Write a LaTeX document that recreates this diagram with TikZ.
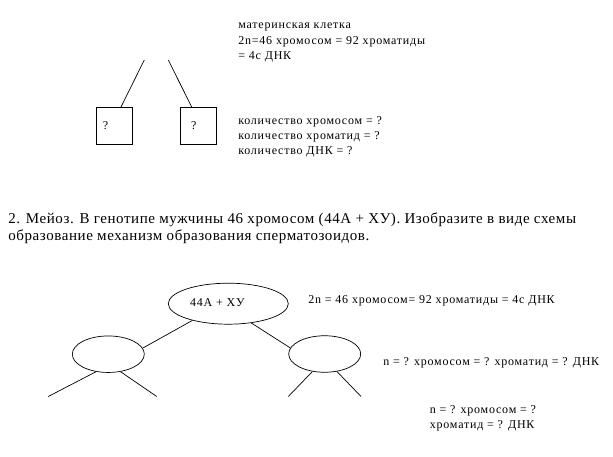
\documentclass[tikz,border=0pt]{standalone}
\usepackage{fontspec}
\setmainfont{Liberation Serif}
\newfontfamily\lblfont[LetterSpace=6.5]{Liberation Serif}
\newfontfamily\taskfont[LetterSpace=3.8]{Liberation Serif}
\usetikzlibrary{positioning,shapes.geometric}
\newcommand\cellw{72pt}
\newcommand\cellh{36.5pt}
\newcommand\topw{120pt}
\newcommand\toph{41pt}
\newcommand\boxs{35.5pt}
\newcommand\lsz{\lblfont\fontsize{12}{15}\selectfont}
\newcommand\msz{\taskfont\fontsize{15}{18}\selectfont}

\begin{document}
\begin{tikzpicture}[x=1pt,y=-1pt,line width=0.7pt,
    cell/.style={draw, ellipse, minimum width=\cellw, minimum height=\cellh, inner sep=0pt},
    qbox/.style={draw, minimum width=\boxs, minimum height=36.7pt, inner sep=0pt},
    lbl/.style={font=\lsz, anchor=base west, inner sep=0pt},
    task/.style={font=\msz, anchor=base west, inner sep=0pt}]
  \useasboundingbox (0,0) rectangle (613,457);

  % mother cell and the two daughter boxes
  \coordinate (ml) at (144.3,60);
  \coordinate (mr) at (168.3,60);
  \node [qbox] (lbox) at (114.5,125.7) {};
  \node [qbox] (rbox) at (198.3,125.7) {};
  \node [font=\lsz, inner sep=0pt] (lq) at ([xshift=-9pt]lbox.center) {?};
  \node [font=\lsz, inner sep=0pt] (rq) at ([xshift=-4.5pt]rbox.center) {?};
  \draw (ml) -- ([xshift=6.5pt]lbox.north);
  \draw (mr) -- ([xshift=-6.6pt]rbox.north);

  % labels of the first scheme
  \node [lbl] (m1) at (238,29) {материнская клетка};
  \node [lbl] (m2) at (238,44.5) {2n=46 хромосом = 92 хроматиды};
  \node [lbl] (m3) at (238,59.5) {= 4с ДНК};
  \node [lbl] (k1) at (238,125) {количество хромосом = ?};
  \node [lbl] (k2) at (238,140) {количество хроматид = ?};
  \node [lbl] (k3) at (238,155) {количество ДНК = ?};

  % task text
  \node [task] (t1) at (8,223.3) {2. Мейоз. В генотипе мужчины 46 хромосом (44А + ХУ). Изобразите в виде схемы};
  \node [task] (t2) at (8,240.7) {образование механизм образования сперматозоидов.};

  % meiosis tree
  \node [cell, minimum width=\topw, minimum height=\toph] (top) at (228.3,303.7) {};
  \node [cell, on grid, below left=50.5pt and 120pt of top] (lc) {};
  \node [cell, on grid, below right=50.3pt and 96.4pt of top] (rc) {};
  \node [font=\lsz, inner sep=0pt] (gen) at ([xshift=-11pt,yshift=1.5pt]top.center) {44А + ХУ};
  % free ends of the last division
  \coordinate (l1) at (48.3,396.5);
  \coordinate (l2) at (156.7,396.5);
  \coordinate (r1) at (288.3,396.5);
  \coordinate (r2) at (361,396.5);

  \draw (top.205) -- (lc.10);
  \draw (top.320) -- (rc.170);
  \draw (lc.235) -- (l1);
  \draw (lc.305) -- (l2);
  \draw (rc.235) -- (r1);
  \draw (rc.305) -- (r2);

  % labels of the tree
  \node [lbl] (n1) at (308,303) {2n = 46 хромосом= 92 хроматиды = 4с ДНК};
  \node [lbl] (n2) at (383,365) {n = ? хромосом = ? хроматид = ? ДНК};
  \node [lbl] (n3) at (429.5,413.5) {n = ? хромосом = ?};
  \node [lbl] (n4) at (429.5,428) {хроматид = ? ДНК};
\end{tikzpicture}
\end{document}
